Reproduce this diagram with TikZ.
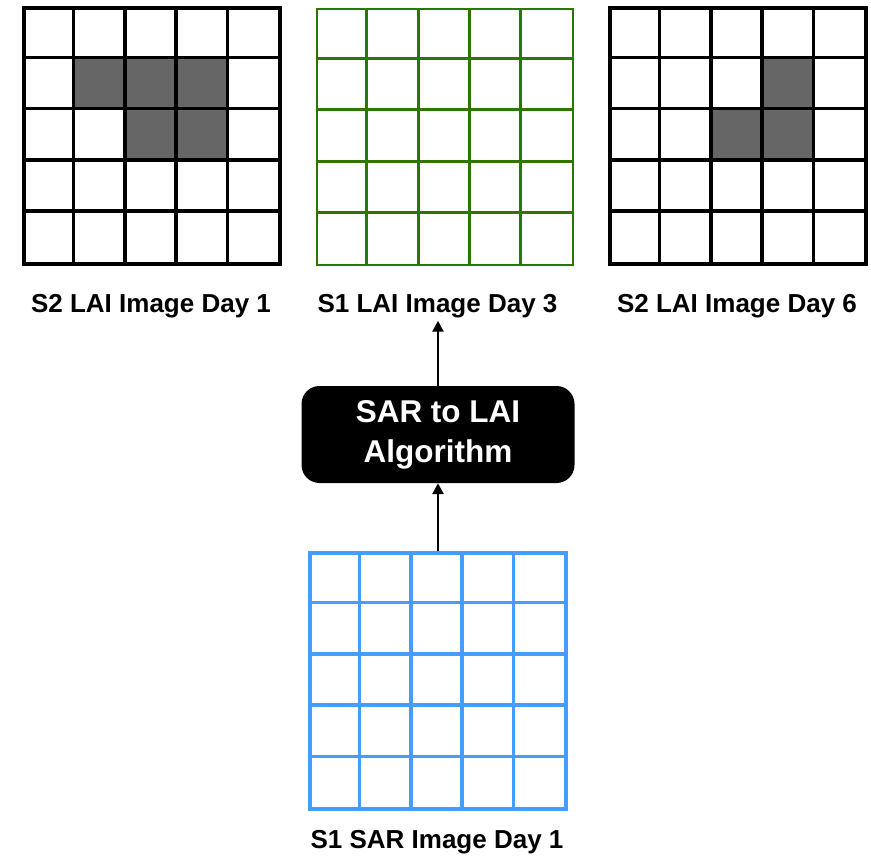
\documentclass[tikz,border=0pt]{standalone}
\usepackage{fontspec}
\setmainfont{Liberation Sans}
\usepackage{tikz}
\usetikzlibrary{arrows.meta,positioning}

\definecolor{laigreen}{RGB}{45,118,0}
\definecolor{sarblue}{RGB}{70,156,255}
\definecolor{pixgray}{RGB}{102,102,102}

\begin{document}
\begin{tikzpicture}[x=1pt, y=-1pt,
  gridbox/.style={draw, line width=3.2pt, minimum size=256pt, inner sep=0pt},
  pix/.style={line width=3.4pt},
  lbl/.style={font=\fontsize{26}{30}\selectfont\bfseries, inner sep=3pt, anchor=base},
  algo/.style={fill=black, rounded corners=18pt, text=white, align=center,
    minimum width=273pt, minimum height=97pt,
    font=\fontsize{31.5}{40}\selectfont\bfseries},
  arr/.style={-{Triangle[length=11pt,width=11pt]}, line width=2.6pt}
]
\useasboundingbox (0,0) rectangle (871,856);
% Grid 1: S2 LAI, day 1
\node[gridbox] (g1) at (152,136) {};
\begin{scope}[shift={(g1.north west)}]
  \fill[pixgray] (51.2,51.2) rectangle (204.8,102.4);
  \fill[pixgray] (102.4,102.4) rectangle (204.8,153.6);
  \foreach \k in {1,...,4} {
    \draw[pix] (\k*51.2,0) -- (\k*51.2,256);
    \draw[pix] (0,\k*51.2) -- (256,\k*51.2);
  }
\end{scope}
\node[lbl] (l1) at (151,312) {S2 LAI Image Day 1};
% Grid 2: S1 LAI, day 3
\node[gridbox, draw=laigreen, line width=2.8pt] (g2) at (445,137) {};
\begin{scope}[shift={(g2.north west)}]
  \foreach \k in {1,...,4} {
    \draw[pix, laigreen, line width=3pt] (\k*51.2,0) -- (\k*51.2,256);
    \draw[pix, laigreen, line width=3pt] (0,\k*51.2) -- (256,\k*51.2);
  }
\end{scope}
\node[lbl] (l2) at (437.5,312) {S1 LAI Image Day 3};
% Grid 3: S2 LAI, day 6
\node[gridbox] (g3) at (738,136) {};
\begin{scope}[shift={(g3.north west)}]
  \fill[pixgray] (153.6,51.2) rectangle (204.8,102.4);
  \fill[pixgray] (102.4,102.4) rectangle (204.8,153.6);
  \foreach \k in {1,...,4} {
    \draw[pix] (\k*51.2,0) -- (\k*51.2,256);
    \draw[pix] (0,\k*51.2) -- (256,\k*51.2);
  }
\end{scope}
\node[lbl] (l3) at (737,312) {S2 LAI Image Day 6};
% Algorithm
\node[algo] (alg) at (438,434.5) {SAR to LAI\\Algorithm};
% Grid 4: S1 SAR, day 1
\node[gridbox, draw=sarblue] (g4) at (438,681) {};
\begin{scope}[shift={(g4.north west)}]
  \foreach \k in {1,...,4} {
    \draw[pix, sarblue] (\k*51.2,0) -- (\k*51.2,256);
    \draw[pix, sarblue] (0,\k*51.2) -- (256,\k*51.2);
  }
\end{scope}
\node[lbl] (l4) at (437,848) {S1 SAR Image Day 1};
% Arrows
\draw[arr] (g4.north) -- (alg.south);
\draw[arr] (alg.north) -- (alg.north |- l2.south);
\end{tikzpicture}
\end{document}
